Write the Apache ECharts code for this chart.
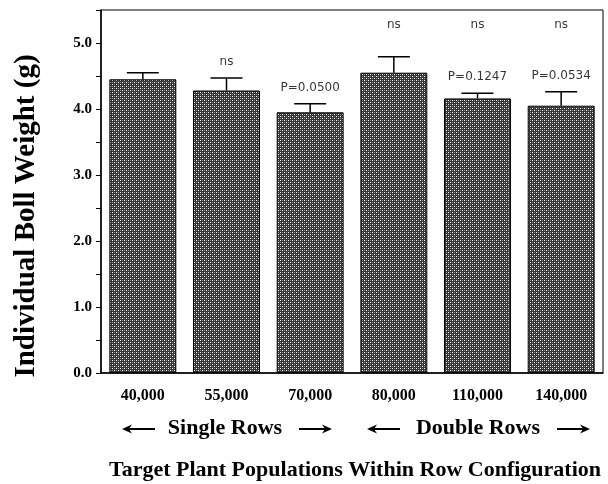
<!DOCTYPE html>
<html>
<head>
<meta charset="utf-8">
<script src="https://cdn.jsdelivr.net/npm/echarts@6/dist/echarts.min.js"></script>
<style>
  html, body { margin: 0; padding: 0; background: #fff; }
  #chart { width: 608px; height: 484px; }
</style>
</head>
<body>
<div id="chart"></div>
<script>
// 目标株数（类别）
const categories = ['40,000', '55,000', '70,000', '80,000', '110,000', '140,000'];
// 单铃重均值 (g)
const bollWeight = [4.45, 4.28, 3.95, 4.55, 4.16, 4.05];
// 误差线上端
const errorUpper = [4.55, 4.47, 4.08, 4.79, 4.24, 4.26];
// 误差线上方的显著性标注
const nearLabels = ['', 'ns', 'P=0.0500', '', 'P=0.1247', 'P=0.0534'];
// 顶部一行的标注
const topLabels = ['', '', '', 'ns', 'ns', 'ns'];
// y 轴刻度
const yTicks = [0, 1, 2, 3, 4, 5];

// 网点填充图案
function makePattern() {
    const c = document.createElement('canvas');
    c.width = 4;
    c.height = 4;
    const ctx = c.getContext('2d');
    ctx.fillStyle = '#363636';
    ctx.fillRect(0, 0, 4, 4);
    ctx.fillStyle = '#ffffff';
    ctx.fillRect(0, 0, 1, 1);
    ctx.fillRect(2, 2, 1, 1);
    ctx.fillStyle = '#8a8a8a';
    ctx.fillRect(2, 0, 1, 1);
    ctx.fillRect(0, 2, 1, 1);
    return c;
}

// 箭头（线段 + 箭头头部）
function arrow(x1, x2, y) {
    const dir = x2 > x1 ? 1 : -1;
    return [
        { type: 'line', shape: { x1: x1, y1: y, x2: x2 - dir * 6, y2: y }, style: { stroke: '#000', lineWidth: 2 } },
        { type: 'polygon', shape: { points: [[x2, y], [x2 - dir * 10, y - 4.5], [x2 - dir * 7, y], [x2 - dir * 10, y + 4.5]] }, style: { fill: '#000' } }
    ];
}

const serif = 'Liberation Serif';
const chart = echarts.init(document.getElementById('chart'));

const option = {
    animation: false,
    grid: {
        left: 101, right: 5, top: 10, bottom: 111,
        show: true, borderColor: '#000', borderWidth: 1
    },
    xAxis: {
        type: 'category',
        data: categories,
        axisLine: { lineStyle: { color: '#000', width: 1.5 } },
        axisTick: { length: 5, lineStyle: { color: '#000' } },
        axisLabel: {
            color: '#000', fontFamily: serif, fontWeight: 'bold', fontSize: 16, margin: 15
        }
    },
    yAxis: {
        type: 'value',
        min: 0, max: 5.5, interval: 1,
        splitLine: { show: false },
        axisLine: { show: true, lineStyle: { color: '#000', width: 1.5 } },
        axisTick: { show: true, length: 5, lineStyle: { color: '#000' } },
        minorTick: { show: true, splitNumber: 2, length: 5, lineStyle: { color: '#000' } },
        axisLabel: {
            color: '#000', fontFamily: serif, fontWeight: 'bold', fontSize: 15, margin: 9,
            formatter: function (v) {
                return yTicks.indexOf(v) >= 0 ? v.toFixed(1) : '';
            }
        }
    },
    series: [
        {
            type: 'bar',
            data: bollWeight,
            barWidth: '80%',
            itemStyle: {
                color: { image: makePattern(), repeat: 'repeat' },
                borderColor: '#000',
                borderWidth: 1
            }
        },
        {
            type: 'custom',
            data: errorUpper.map((u, i) => [i, bollWeight[i], u]),
            renderItem: function (params, api) {
                const low = api.coord([api.value(0), api.value(1)]);
                const high = api.coord([api.value(0), api.value(2)]);
                const half = 16;
                const style = { stroke: '#000', lineWidth: 1.5 };
                return {
                    type: 'group',
                    children: [
                        { type: 'line', shape: { x1: low[0], y1: low[1], x2: high[0], y2: high[1] }, style: style },
                        { type: 'line', shape: { x1: high[0] - half, y1: high[1], x2: high[0] + half, y2: high[1] }, style: style }
                    ]
                };
            },
            z: 3
        },
        {
            type: 'scatter',
            symbolSize: 0,
            data: errorUpper.map((u, i) => [i, u]),
            label: {
                show: true, position: 'top', distance: 10,
                fontFamily: 'DejaVu Sans', fontSize: 12, color: '#000',
                formatter: p => nearLabels[p.dataIndex]
            },
            z: 4
        },
        {
            type: 'scatter',
            symbolSize: 0,
            data: topLabels.map((t, i) => [i, 5.27]),
            label: {
                show: true, position: 'inside',
                fontFamily: 'DejaVu Sans', fontSize: 12, color: '#000',
                formatter: p => topLabels[p.dataIndex]
            },
            z: 4
        }
    ],
    graphic: [
        {
            type: 'text', x: 27, y: 216, rotation: Math.PI / 2, originX: 0, originY: 0,
            style: {
                text: 'Individual Boll Weight (g)', fill: '#000',
                font: 'bold 29px "Liberation Serif"', align: 'center', verticalAlign: 'middle'
            }
        },
        {
            type: 'text', x: 225, y: 428,
            style: {
                text: 'Single Rows', fill: '#000',
                font: 'bold 22px "Liberation Serif"', align: 'center', verticalAlign: 'middle'
            }
        },
        {
            type: 'text', x: 478, y: 428,
            style: {
                text: 'Double Rows', fill: '#000',
                font: 'bold 22px "Liberation Serif"', align: 'center', verticalAlign: 'middle'
            }
        },
        { type: 'group', children: arrow(155, 122, 429).concat(arrow(299, 332, 429)) },
        { type: 'group', children: arrow(400, 367, 429).concat(arrow(557, 590, 429)) },
        {
            type: 'text', x: 355, y: 470,
            style: {
                text: 'Target Plant Populations Within Row Configuration', fill: '#000',
                font: 'bold 22px "Liberation Serif"', align: 'center', verticalAlign: 'middle'
            }
        }
    ]
};

chart.setOption(option);
</script>
</body>
</html>
